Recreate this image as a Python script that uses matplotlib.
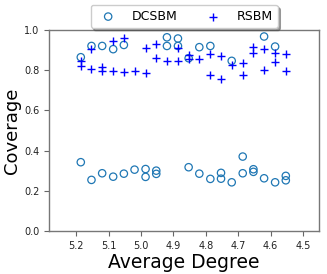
import matplotlib
matplotlib.use("Agg")
import matplotlib.pyplot as plt

# Average degree of each configuration
degree = [5.186, 5.153, 5.120, 5.086, 5.053, 5.020, 4.986, 4.953, 4.920, 4.886,
          4.853, 4.820, 4.786, 4.753, 4.720, 4.686, 4.653, 4.620, 4.586, 4.553]

# DCSBM coverage points (x, y)
dc_x = [5.186, 5.186, 5.153, 5.153, 5.120, 5.120, 5.086, 5.086, 5.053, 5.053,
        5.020, 4.986, 4.986, 4.953, 4.953, 4.920, 4.920, 4.886, 4.886,
        4.853, 4.853, 4.820, 4.820, 4.786, 4.786, 4.753, 4.753, 4.720, 4.720,
        4.686, 4.686, 4.653, 4.653, 4.620, 4.620, 4.586, 4.586, 4.553, 4.553]
dc_y = [0.864, 0.342, 0.920, 0.254, 0.920, 0.287, 0.904, 0.270, 0.925, 0.285,
        0.305, 0.308, 0.269, 0.300, 0.284, 0.963, 0.920, 0.957, 0.920,
        0.859, 0.317, 0.914, 0.285, 0.920, 0.259, 0.289, 0.260, 0.846, 0.242,
        0.370, 0.287, 0.307, 0.294, 0.967, 0.262, 0.917, 0.242, 0.274, 0.252]

# RSBM coverage points (x, y)
rs_x = [5.186, 5.186, 5.153, 5.153, 5.120, 5.120, 5.086, 5.086, 5.053, 5.053,
        5.020, 4.986, 4.986, 4.953, 4.953, 4.920, 4.886, 4.886,
        4.853, 4.853, 4.820, 4.786, 4.786, 4.753, 4.753, 4.720,
        4.686, 4.686, 4.653, 4.653, 4.620, 4.620, 4.586, 4.586, 4.553, 4.553]
rs_y = [0.844, 0.822, 0.905, 0.804, 0.817, 0.794, 0.944, 0.796, 0.959, 0.790,
        0.796, 0.909, 0.788, 0.930, 0.862, 0.843, 0.912, 0.843,
        0.877, 0.857, 0.856, 0.881, 0.776, 0.872, 0.755, 0.826,
        0.837, 0.778, 0.914, 0.884, 0.904, 0.798, 0.884, 0.839, 0.881, 0.796]

xticks = [5.2, 5.1, 5.0, 4.9, 4.8, 4.7, 4.6, 4.5]
yticks = [0.0, 0.2, 0.4, 0.6, 0.8, 1.0]

fig = plt.figure(figsize=(3.27, 2.74), dpi=100)
ax = fig.add_axes([0.150, 0.157, 0.826, 0.734])

ax.scatter(dc_x, dc_y, s=28, facecolors='none', edgecolors='#1f77b4',
           linewidths=0.9, marker='o', label='DCSBM')
ax.scatter(rs_x, rs_y, s=26, color='blue', marker='+', linewidths=1.0,
           label='RSBM')

ax.set_xlim(5.284, 4.45)
ax.set_ylim(0.0, 1.0)
ax.set_xticks(xticks)
ax.set_xticklabels([f"{t:.1f}" for t in xticks])
ax.set_yticks(yticks)
ax.set_yticklabels([f"{t:.1f}" for t in yticks])
ax.tick_params(labelsize=7, colors='#222222', length=3.5, width=0.8)
ax.tick_params(axis='both', color='#666666')
for sp in ax.spines.values():
    sp.set_color('#777777')
    sp.set_linewidth(1.0)

ax.set_xlabel('Average Degree', fontsize=13.5, labelpad=2)
ax.set_ylabel('Coverage', fontsize=13, labelpad=2)

leg = ax.legend(loc='lower center', bbox_to_anchor=(0.5, 1.01), ncol=2,
                fontsize=9, frameon=True, shadow=True, borderaxespad=0.0,
                columnspacing=1.8, handletextpad=0.9, borderpad=0.4,
                handlelength=2.0, fancybox=True)

fig.savefig('out.png', dpi=100)
